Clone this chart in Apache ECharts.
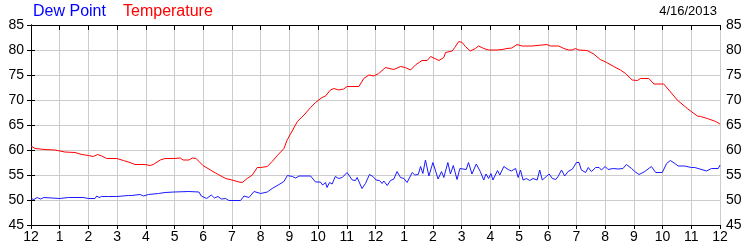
<!DOCTYPE html>
<html>
<head>
<meta charset="utf-8">
<script src="https://cdn.jsdelivr.net/npm/echarts@6/dist/echarts.min.js"></script>
<style>
html,body{margin:0;padding:0;background:#fff;}
#chart{width:750px;height:250px;}
</style>
</head>
<body>
<div id="chart"></div>
<script>
// X positions are hours since midnight (0..24)
var hourTicks = ["12","1","2","3","4","5","6","7","8","9","10","11","12","1","2","3","4","5","6","7","8","9","10","11","12"];
var yTicks = [45,50,55,60,65,70,75,80,85];

var tempHours = [0,0.14,0.49,0.84,1.18,1.53,1.77,2.0,2.17,2.32,2.46,2.64,2.99,3.22,3.45,3.62,3.97,4.15,4.26,4.5,4.67,4.98,5.2,5.3,5.5,5.62,5.75,5.99,6.25,6.49,6.78,7.0,7.24,7.36,7.53,7.71,7.88,8.0,8.23,8.4,8.58,8.81,8.93,9.02,9.28,9.51,9.74,9.91,10.14,10.26,10.43,10.55,10.72,10.89,11.01,11.42,11.59,11.77,11.94,12.11,12.35,12.64,12.87,13.04,13.22,13.39,13.62,13.8,13.92,14.21,14.38,14.44,14.67,14.76,14.9,15.02,15.13,15.3,15.48,15.59,15.77,15.94,16.23,16.41,16.58,16.75,16.93,17.1,17.45,17.51,17.97,18.09,18.38,18.56,18.73,18.85,18.96,19.08,19.37,19.6,19.83,20.05,20.3,20.53,20.71,20.94,21.12,21.23,21.52,21.7,22.04,22.22,22.51,22.86,23.21,23.32,23.56,23.85,24.0];
var tempValues = [60.8,60.3,60.1,60.0,59.6,59.5,59.1,58.9,58.7,59.1,58.8,58.3,58.3,57.9,57.5,57.1,57.1,56.9,57.1,58.0,58.3,58.3,58.4,58.0,58.0,58.4,58.3,56.9,56.0,55.2,54.3,54.0,53.6,53.5,54.3,55.0,56.5,56.5,56.7,57.7,58.9,60.3,62.1,63.0,65.7,67.0,68.5,69.5,70.5,70.8,72.0,72.3,72.0,72.2,72.7,72.7,74.3,75.0,74.8,75.3,76.5,76.1,76.7,76.5,76.0,77.0,77.9,77.9,78.7,77.9,78.5,79.5,79.8,80.5,81.7,81.5,80.7,79.8,80.3,80.8,80.3,80.0,80.0,80.1,80.3,80.4,81.1,80.8,80.8,81.1,81.1,80.8,80.8,80.3,80.0,80.0,80.3,80.0,79.9,79.2,78.1,77.5,76.7,76.0,75.3,74.0,73.9,74.3,74.3,73.2,73.2,72.0,70.0,68.3,66.8,66.7,66.3,65.7,65.2];

var dewHours = [0,0.1,0.22,0.33,0.45,1.0,1.3,1.82,2.0,2.23,2.29,2.37,2.46,2.7,2.99,3.39,3.51,3.8,3.92,4.09,4.44,4.67,4.98,5.5,5.85,5.93,6.12,6.28,6.39,6.51,6.63,6.78,6.89,7.3,7.42,7.59,7.77,8.0,8.23,8.4,8.64,8.81,8.93,9.1,9.22,9.34,9.51,9.74,9.91,10.08,10.16,10.26,10.31,10.4,10.49,10.6,10.72,10.84,11.01,11.19,11.3,11.36,11.53,11.65,11.79,11.91,12.02,12.14,12.23,12.29,12.41,12.52,12.64,12.75,12.87,12.99,13.1,13.28,13.37,13.49,13.57,13.65,13.74,13.86,14.0,14.18,14.3,14.38,14.52,14.61,14.71,14.84,14.94,15.16,15.24,15.36,15.51,15.65,15.77,15.85,15.94,16.02,16.09,16.25,16.33,16.47,16.62,16.73,16.88,16.97,17.05,17.14,17.26,17.37,17.49,17.63,17.72,17.81,17.95,18.05,18.16,18.28,18.36,18.48,18.59,18.71,18.86,19.0,19.09,19.17,19.32,19.41,19.52,19.67,19.79,19.87,20.0,20.1,20.28,20.45,20.62,20.74,20.92,21.03,21.18,21.38,21.61,21.76,21.99,22.14,22.27,22.43,22.54,22.77,23.0,23.12,23.3,23.53,23.7,23.94,24.0];
var dewValues = [50.3,50.1,50.5,50.2,50.5,50.3,50.5,50.5,50.3,50.3,50.8,50.5,50.7,50.7,50.7,50.9,50.9,51.1,50.8,51.1,51.3,51.5,51.6,51.7,51.6,50.8,50.3,51.0,50.4,50.7,50.2,50.3,49.9,49.9,50.8,50.5,51.7,51.3,51.6,52.3,53.1,53.7,54.9,54.7,54.4,54.8,54.8,54.8,53.6,53.6,53.0,53.5,52.5,53.5,53.2,54.7,54.3,54.5,55.5,54.0,53.9,54.5,52.3,53.3,55.1,54.7,54.0,53.9,53.3,53.8,52.9,53.9,54.2,55.7,54.5,54.3,53.5,55.5,55.0,55.1,56.7,55.3,58.0,54.8,57.5,54.2,55.7,54.5,57.5,55.2,56.9,54.1,56.3,56.1,57.5,55.2,57.2,55.7,54.0,55.2,54.3,55.3,54.0,55.9,55.0,56.7,56.1,55.8,56.3,54.5,56.0,54.0,54.3,53.9,54.3,54.0,56.0,54.0,54.7,55.2,54.3,54.1,54.7,56.0,54.8,55.7,56.2,57.5,57.5,56.0,55.5,56.5,55.7,56.5,56.5,56.0,56.7,56.1,56.3,56.2,56.3,57.1,56.3,55.7,55.1,55.7,56.7,55.5,55.5,57.3,57.9,57.3,56.8,56.8,56.5,56.5,56.2,55.8,56.3,56.3,57.0];

function pairs(xs, ys){ return xs.map(function(x,i){ return [x, ys[i]]; }); }

var FONT = '"Liberation Sans", Arial, sans-serif';
var chart = echarts.init(document.getElementById('chart'), null, {renderer:'canvas'});
var yMin = yTicks[0], yMax = yTicks[yTicks.length-1];

var yAxisCommon = {
  type:'value', min:yMin, max:yMax, interval:5,
  axisLine:{show:true, lineStyle:{color:'#000', width:1}},
  axisTick:{show:true, inside:false, length:4, lineStyle:{color:'#000'}},
  axisLabel:{color:'#000', fontSize:14, fontFamily:FONT}
};

chart.setOption({
  animation:false,
  backgroundColor:'#fff',
  grid:{left:31, right:30, top:25, bottom:25, containLabel:false},
  graphic:[
    {type:'text', left:33, top:4, style:{text:'Dew Point', fill:'#0000ff', font:'16px ' + FONT}},
    {type:'text', left:123, top:4, style:{text:'Temperature', fill:'#ff0000', font:'16px ' + FONT}},
    {type:'text', right:33, top:5, style:{text:'4/16/2013', fill:'#000', font:'13px ' + FONT}}
  ],
  xAxis:[
    {type:'value', min:0, max:24, interval:1, position:'bottom',
     axisLine:{show:true, lineStyle:{color:'#000', width:1}},
     axisTick:{show:true, inside:false, length:4, lineStyle:{color:'#000'}},
     axisLabel:{color:'#000', fontSize:14, fontFamily:FONT, margin:5,
       formatter:function(v){ return hourTicks[Math.round(v)]; }},
     splitLine:{show:true, lineStyle:{color:'#cccccc', width:1}}},
    {type:'value', min:0, max:24, interval:1, position:'top',
     axisLine:{show:true, lineStyle:{color:'#000', width:1}},
     axisTick:{show:true, inside:true, length:5, lineStyle:{color:'#000'}},
     axisLabel:{show:false}, splitLine:{show:false}}
  ],
  yAxis:[
    Object.assign({}, yAxisCommon, {position:'left', axisLabel:Object.assign({}, yAxisCommon.axisLabel, {margin:7}),
      splitLine:{show:true, lineStyle:{color:'#cccccc', width:1}}}),
    Object.assign({}, yAxisCommon, {position:'right', axisLabel:Object.assign({}, yAxisCommon.axisLabel, {margin:6}),
      splitLine:{show:false}})
  ],
  series:[
    {name:'Dew Point', type:'line', xAxisIndex:0, yAxisIndex:0, data:pairs(dewHours, dewValues),
     showSymbol:false, symbol:'none', lineStyle:{color:'#1a1aff', width:1}, z:3},
    {name:'Temperature', type:'line', xAxisIndex:0, yAxisIndex:0, data:pairs(tempHours, tempValues),
     showSymbol:false, symbol:'none', lineStyle:{color:'#ff0000', width:1}, z:3}
  ]
});
</script>
</body>
</html>
